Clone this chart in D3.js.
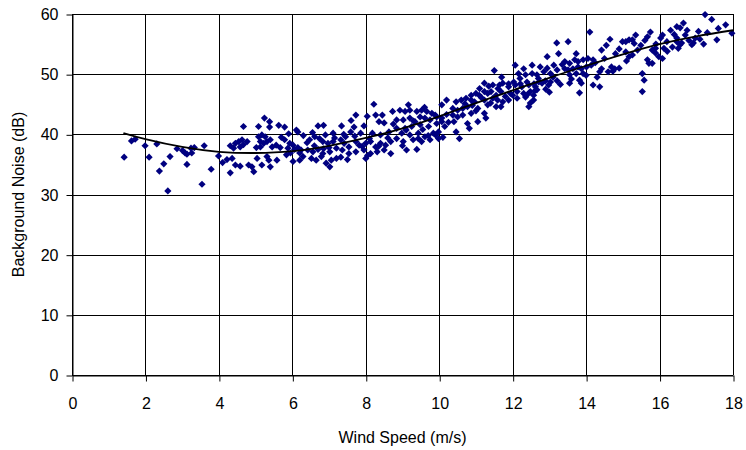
<!DOCTYPE html>
<html>
<head>
<meta charset="utf-8">
<script src="https://cdn.jsdelivr.net/npm/d3@7"></script>
<style>
  body { margin: 0; background: #fff; }
  svg text { font-family: "Liberation Sans", Arial, sans-serif; fill: #000; }
</style>
</head>
<body>
<div id="chart"></div>
<script>
// wind speed (m/s) / background noise (dB) readings, grouped by speed range
const lowWind = [
  [1.42,36.2],[1.62,38.9],[1.72,39.2],[1.99,38.1],[2.1,36.2],[2.31,38.4],[2.67,36.3],[2.5,35.1],[2.38,33.9],[2.61,30.6],
  [2.86,37.6],[3.01,37.3],[3.08,36.9],[3.13,36.7],[3.24,37.7],[3.33,37.8],[3.26,36.9],[3.6,38.1],[3.13,35.0],[3.79,34.2],
  [3.54,31.7],[3.99,36.4],[4.1,35.3],[4.22,35.8],[4.36,36.0],[4.45,34.9],[4.58,34.7],[4.31,33.6],[4.81,34.9],[4.9,34.6],
  [4.95,33.8],[4.31,38.1],[4.45,38.5],[4.54,38.8],[4.63,39.1],[4.4,37.7],[4.58,37.9],[4.67,38.3],[4.77,38.8],[4.67,41.3],
  [5.08,41.3],[5.24,42.7],[5.38,42.1],[5.38,41.2],[5.63,41.5],[5.08,39.6],[5.17,39.9],[5.26,39.6],[5.13,38.8],[5.22,38.5],
  [5.31,38.8],[5.4,39.1],[5.02,37.8],[5.13,37.9],[5.45,37.9],[5.56,38.2],[5.67,37.8],[5.04,36.0],[5.31,36.3],[5.36,35.7],
  [5.17,34.9],[5.4,34.6],[5.58,35.7]
];
const midWind = [
  [5.79,41.2],[6.11,40.7],[6.15,40.4],[6.7,41.4],[6.85,41.5],[7.11,40.2],[5.79,39.1],[5.93,38.5],[6.02,38.2],[5.88,37.7],
  [6.06,37.5],[6.15,37.8],[6.24,37.4],[6.47,39.1],[6.61,39.6],[6.74,39.3],[6.83,38.8],[6.97,38.5],[7.11,38.8],[6.42,37.4],
  [6.56,37.1],[6.7,37.5],[6.83,36.8],[7.02,37.1],[7.2,37.7],[5.84,36.6],[6.02,35.5],[6.2,35.7],[6.29,36.3],[6.52,36.0],
  [6.65,35.7],[6.79,36.3],[6.92,35.2],[7.06,35.7],[7.2,36.0],[7.02,34.6],[5.7,39.5],[5.9,40.1],[6.3,39.8],[6.4,38.6],
  [6.6,38.1],[6.9,39.9],[7.0,37.8],[7.15,39.4],[6.2,36.9],[6.85,37.6],[5.95,36.9],[6.55,40.3],
  [8.22,45.0],[7.73,43.2],[8.04,43.0],[8.27,43.2],[8.45,43.2],[8.36,42.1],[8.73,43.8],[7.34,41.4],[7.68,41.2],[7.95,41.4],
  [7.86,40.2],[7.59,40.4],[8.18,40.2],[8.4,39.9],[8.63,40.4],[7.32,39.1],[7.45,39.6],[7.41,38.5],[7.54,37.9],[7.73,38.8],
  [7.82,38.2],[8.0,38.5],[8.13,38.8],[8.27,37.9],[8.4,38.5],[8.54,38.2],[8.68,38.8],[7.36,37.4],[7.54,36.8],[7.73,37.1],
  [7.95,37.4],[8.13,36.8],[8.31,37.1],[8.5,37.4],[8.68,36.8],[7.32,36.2],[7.5,35.8],[8.0,36.0],[7.4,40.0],[7.7,39.7],
  [7.9,38.0],[8.1,39.3],[8.35,38.0],[8.6,39.4],[8.75,41.7],[8.5,41.9],[7.6,42.3],[8.05,36.5],
  [9.16,44.9],[10.07,44.9],[10.2,45.7],[8.93,44.0],[9.07,43.8],[9.2,44.0],[9.39,43.8],[9.52,44.0],[9.66,43.8],[9.8,43.5],
  [9.89,43.2],[8.84,42.4],[9.02,42.4],[9.2,42.7],[9.34,42.1],[9.48,42.9],[9.61,42.7],[9.75,42.4],[9.93,42.9],[10.07,42.7],
  [10.2,43.3],[8.84,41.0],[9.07,41.0],[9.25,41.3],[9.48,41.6],[9.71,41.3],[9.93,41.8],[10.07,42.1],[8.98,40.2],[9.2,39.9],
  [9.43,40.2],[9.61,39.6],[9.84,40.2],[9.98,40.4],[8.84,39.3],[9.02,38.8],[9.29,39.1],[9.43,39.3],[9.52,38.8],[9.75,39.1],
  [9.98,39.3],[9.11,37.4],[9.39,37.5],[9.1,40.7],[9.3,42.2],[9.55,40.8],[9.7,39.8],[9.9,39.9],[10.15,41.3],[10.25,42.0],
  [9.6,44.5],[9.0,38.1],[10.1,39.5]
];
const highWind = [
  [11.5,50.6],[11.23,48.5],[11.46,48.2],[11.64,48.2],[11.73,48.5],[10.87,46.5],[11.0,46.8],[11.09,46.5],[11.23,47.1],[11.32,46.8],
  [11.41,47.1],[11.55,46.5],[11.68,47.1],[10.46,45.4],[10.6,45.7],[10.73,46.0],[10.87,45.7],[10.96,45.4],[11.23,45.7],[11.46,46.0],
  [11.59,45.7],[11.73,45.4],[10.37,44.3],[10.5,44.0],[10.64,44.3],[10.77,44.6],[11.05,44.3],[11.32,44.9],[11.55,44.6],[10.37,43.2],
  [10.5,42.9],[10.64,43.2],[10.87,43.5],[11.23,43.5],[11.27,42.7],[10.77,41.8],[11.05,42.1],[10.82,41.0],[10.46,40.4],[11.68,44.6],
  [10.55,39.3],[10.4,42.1],[10.7,45.1],[11.0,43.9],[11.15,46.1],[11.4,45.2],[11.6,47.6],[11.8,46.3],[11.1,47.6],[10.9,44.8],
  [11.7,49.5],[11.35,48.0],
  [12.94,52.9],[13.25,53.4],[12.07,51.5],[12.53,51.5],[12.75,51.2],[12.94,51.0],[13.12,51.5],[12.16,50.1],[12.35,49.9],[12.53,50.1],
  [12.66,49.9],[12.85,50.4],[13.03,50.1],[13.21,50.7],[11.89,48.4],[12.03,48.7],[12.21,48.4],[12.39,48.7],[12.58,48.4],[12.71,48.7],
  [12.89,48.9],[13.03,48.7],[13.21,48.9],[11.89,47.9],[12.07,48.2],[12.25,47.9],[12.44,48.2],[12.62,47.9],[12.8,48.5],[12.98,48.2],
  [11.94,46.8],[12.12,47.1],[12.3,46.8],[12.48,47.1],[12.66,47.4],[11.89,45.7],[12.12,46.0],[12.35,46.2],[12.57,46.5],[12.48,45.2],
  [12.57,45.7],[12.44,44.6],[12.0,46.5],[12.2,49.3],[12.4,46.6],[12.7,49.3],[12.9,47.5],[13.1,49.5],[13.3,48.3],[12.3,50.9],
  [13.0,47.0],[13.35,51.6],[12.6,47.2],
  [13.51,55.4],[14.55,54.8],[14.42,54.0],[13.73,53.4],[13.69,52.4],[13.42,52.1],[13.55,51.8],[13.78,52.1],[13.92,52.4],[14.05,52.6],
  [14.19,52.4],[13.42,50.9],[13.51,50.7],[13.64,50.9],[13.78,51.2],[13.87,50.9],[14.01,51.2],[14.14,51.5],[13.55,49.9],[13.73,50.1],
  [13.92,50.1],[14.42,50.9],[14.69,51.2],[14.78,50.9],[14.37,50.4],[14.6,50.4],[14.73,50.5],[13.55,48.5],[13.82,49.0],[13.87,48.5],
  [14.19,48.2],[14.37,47.9],[13.82,46.9],[13.6,49.2],[14.0,49.8],[14.25,51.9],[14.5,52.6],[14.8,53.4],[14.3,49.5],[14.1,57.0],
  [13.2,55.2],[14.65,55.8],[14.9,54.2]
];
const topWind = [
  [16.08,56.5],[16.03,56.0],[16.3,57.3],[15.67,56.2],[15.35,56.5],[15.26,55.7],[15.17,55.7],[15.08,55.4],[14.99,55.4],[15.31,55.1],
  [15.49,54.8],[15.08,53.7],[15.26,53.2],[15.17,52.9],[15.8,54.0],[15.89,53.5],[15.98,52.9],[16.12,54.3],[16.21,53.8],[15.89,54.3],
  [16.08,52.6],[14.9,51.0],[15.67,52.4],[15.71,51.8],[15.8,51.8],[15.53,50.1],[15.58,49.0],[15.53,47.1],[15.1,52.2],[15.4,54.0],
  [15.6,55.6],[15.75,57.0],[16.2,55.4],[16.4,56.6],[15.9,55.0],[16.35,54.5],
  [17.24,59.9],[17.42,59.1],[16.65,58.5],[16.47,57.9],[16.56,57.7],[17.06,57.1],[17.97,56.8],[17.56,55.7],[16.47,56.0],[16.47,55.4],
  [16.6,55.2],[16.51,54.3],[16.56,54.9],[16.92,55.2],[16.88,54.9],[16.97,56.0],[16.7,56.5],[16.8,55.6],[17.1,55.8],[17.3,56.9],
  [17.6,57.6],[17.8,58.2],[17.2,55.0],[16.75,57.3]
];

// trend curve
const trendSpeed = [1.4, 2, 3, 4, 5, 6, 7, 8, 9, 10, 11, 12, 13, 14, 15, 16, 17, 18];
const trendNoise = [40.2, 39.2, 37.9, 37.1, 36.9, 37.2, 38.1, 39.4, 41.0, 43.0, 45.2, 47.3, 49.4, 51.4, 53.3, 55.0, 56.3, 57.3];

const xTicks = [0, 2, 4, 6, 8, 10, 12, 14, 16, 18];
const yTicks = [0, 10, 20, 30, 40, 50, 60];

const width = 746, height = 450;
const margin = {left: 72, top: 14, right: 13, bottom: 75};
const w = width - margin.left - margin.right,
      h = height - margin.top - margin.bottom;

const svg = d3.select('#chart').append('svg')
    .attr('width', width)
    .attr('height', height);

const g = svg.append('g')
    .attr('transform', `translate(${margin.left},${margin.top})`);

const x = d3.scaleLinear().domain([0, 18]).range([0, w]);
const y = d3.scaleLinear().domain([0, 60]).range([h, 0]);

// grid
g.selectAll('.hgrid').data(yTicks).enter().append('line')
    .attr('x1', 0).attr('x2', w)
    .attr('y1', d => Math.round(y(d)) + 0.5).attr('y2', d => Math.round(y(d)) + 0.5)
    .attr('stroke', '#000').attr('stroke-width', 1);
g.selectAll('.vgrid').data(xTicks).enter().append('line')
    .attr('y1', 0).attr('y2', h)
    .attr('x1', d => Math.round(x(d)) + 0.5).attr('x2', d => Math.round(x(d)) + 0.5)
    .attr('stroke', '#000').attr('stroke-width', 1);

// axes
const xAxis = g.append('g')
    .attr('transform', `translate(0.5,${h + 0.5})`)
    .call(d3.axisBottom(x).tickValues(xTicks).tickSize(6).tickSizeOuter(0).tickPadding(16));
const yAxis = g.append('g')
    .attr('transform', 'translate(0.5,0.5)')
    .call(d3.axisLeft(y).tickValues(yTicks).tickSize(6).tickSizeOuter(0).tickPadding(8));
[xAxis, yAxis].forEach(a => {
    a.selectAll('path, line').attr('stroke', '#000');
    a.selectAll('text').style('font-size', '16px').attr('fill', '#000');
});

// points
const all = lowWind.concat(midWind, highWind, topWind);
const diamond = 'M0,-3.6L3.6,0L0,3.6L-3.6,0Z';
g.selectAll('.pt').data(all).enter().append('path')
    .attr('d', diamond)
    .attr('transform', d => `translate(${x(d[0])},${y(d[1])})`)
    .attr('fill', '#000080');

// trend line
const line = d3.line()
    .x((d, i) => x(trendSpeed[i]))
    .y(d => y(d))
    .curve(d3.curveNatural);
g.append('path')
    .datum(trendNoise)
    .attr('d', line)
    .attr('fill', 'none')
    .attr('stroke', '#000')
    .attr('stroke-width', 1.8);

// titles
svg.append('text')
    .attr('x', margin.left + w / 2)
    .attr('y', 443)
    .attr('text-anchor', 'middle')
    .style('font-size', '16px')
    .text('Wind Speed (m/s)');
svg.append('text')
    .attr('transform', `translate(24,${margin.top + h / 2}) rotate(-90)`)
    .attr('text-anchor', 'middle')
    .style('font-size', '16px')
    .text('Background Noise (dB)');
</script>
</body>
</html>
